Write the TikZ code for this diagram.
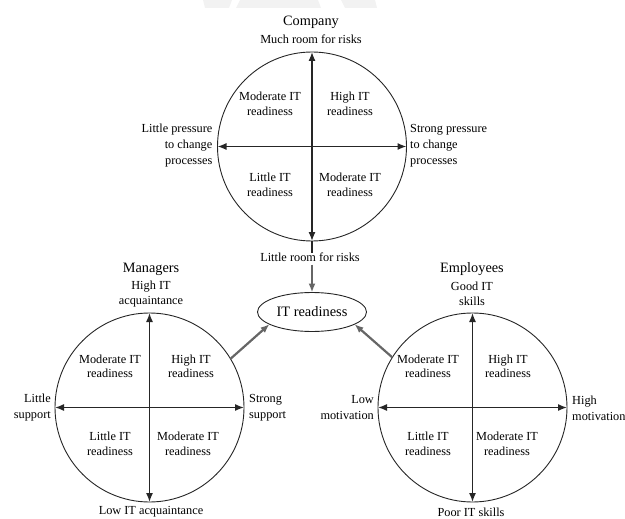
\documentclass[tikz,border=0pt]{standalone}
\usepackage{fontspec}
\setmainfont{Liberation Serif}
\usetikzlibrary{arrows.meta,shapes.geometric}

\tikzset{
  quad/.style={align=center, inner sep=0pt, font=\fontsize{12.3}{14.5}\selectfont},
  side/.style={inner sep=0pt, font=\fontsize{12.3}{16}\selectfont},
  title/.style={inner sep=0pt, font=\fontsize{14.3}{17}\selectfont},
  ring/.style={draw=black!85, line width=0.9pt, circle, minimum size=189pt, inner sep=0pt, outer sep=0pt},
  axis/.style={line width=1.3pt, black!85, {Latex[length=9pt,width=7pt]}-{Latex[length=9pt,width=7pt]}},
  feed/.style={line width=2.2pt, black!60, -{Latex[length=9pt,width=7pt]}},
  faint/.style={fill=black!5, draw=none}
}

\begin{document}
\begin{tikzpicture}[x=1pt,y=-1pt]
\useasboundingbox (0,0) rectangle (625,519);

% light marks along the top edge
\fill[faint] (203,0) -- (232,0) -- (229,8) -- (205,8) -- cycle;
\fill[faint] (240,0) -- (318,0) -- (321,8) -- (236,8) -- cycle;
\fill[faint] (341,0) -- (375,0) -- (377,8) -- (345,8) -- cycle;

% ---------- Company ----------
\node[ring] (comp) at (312,146.5) {};
\draw[axis] (comp.west) -- (comp.east);
\draw[axis] (comp.north) -- (comp.south);
\node[title] (comptitle) at (311,22) {Company};
\node[side] (much) at (311,39) {Much room for risks};
\node[side] (lrr) at (310,257) {Little room for risks};
\draw[line width=1.3pt, black!85] (comp.south) -- ([yshift=-1pt]lrr.north -| comp.south);
\node[side, align=right, anchor=east] (lpress) at (212.5,146) {Little pressure\\to change\\processes};
\node[side, align=left, anchor=west] (spress) at (410,146) {Strong pressure\\to change\\processes};
\node[quad] (c1) at (270,104) {Moderate IT\\readiness};
\node[quad] (c2) at (350,104) {High IT\\readiness};
\node[quad] (c3) at (270,185) {Little IT\\readiness};
\node[quad] (c4) at (350,185) {Moderate IT\\readiness};

% ---------- IT readiness ----------
\node[draw=black!85, line width=0.9pt, ellipse, minimum width=109pt, minimum height=39pt, inner sep=0pt, outer sep=0pt,
      font=\fontsize{14.4}{17}\selectfont] (itr) at (312,312) {IT readiness};
\draw[feed] ([yshift=-3pt]lrr.south -| itr.north) -- (itr.north);

% ---------- Managers ----------
\node[ring] (mgr) at (149.5,407.5) {};
\draw[axis] (mgr.west) -- (mgr.east);
\draw[axis] (mgr.north) -- (mgr.south);
\node[title] (mgrtitle) at (151,269) {Managers};
\node[side, align=center, font=\fontsize{12.3}{15}\selectfont] (hacq) at (151,294) {High IT\\acquaintance};
\node[side] (lacq) at (151,512) {Low IT acquaintance};
\node[side, align=right, anchor=east] (lsup) at (51,408) {Little\\support};
\node[side, align=left, anchor=west] (ssup) at (249,408) {Strong\\support};
\node[quad] (m1) at (110,366.5) {Moderate IT\\readiness};
\node[quad] (m2) at (191,366.5) {High IT\\readiness};
\node[quad] (m3) at (110,444) {Little IT\\readiness};
\node[quad] (m4) at (188,444) {Moderate IT\\readiness};

% ---------- Employees ----------
\node[ring] (emp) at (472.5,407.5) {};
\draw[axis] (emp.west) -- (emp.east);
\draw[axis] (emp.north) -- (emp.south);
\node[title] (emptitle) at (472,269) {Employees};
\node[side, align=center, font=\fontsize{12.3}{15}\selectfont] (good) at (472,294) {Good IT\\skills};
\node[side] (poor) at (471,512.5) {Poor IT skills};
\node[side, align=right, anchor=east] (lmot) at (374,408) {Low\\motivation};
\node[side, align=left, anchor=west] (hmot) at (572,408) {High\\motivation};
\node[quad] (e1) at (428,366.5) {Moderate IT\\readiness};
\node[quad] (e2) at (508,366.5) {High IT\\readiness};
\node[quad] (e3) at (428,444) {Little IT\\readiness};
\node[quad] (e4) at (507,444) {Moderate IT\\readiness};

% ---------- contributions to IT readiness ----------
\draw[feed] (mgr.31) -- (itr.196);
\draw[feed] (emp.148) -- (itr.-16);
\end{tikzpicture}
\end{document}
